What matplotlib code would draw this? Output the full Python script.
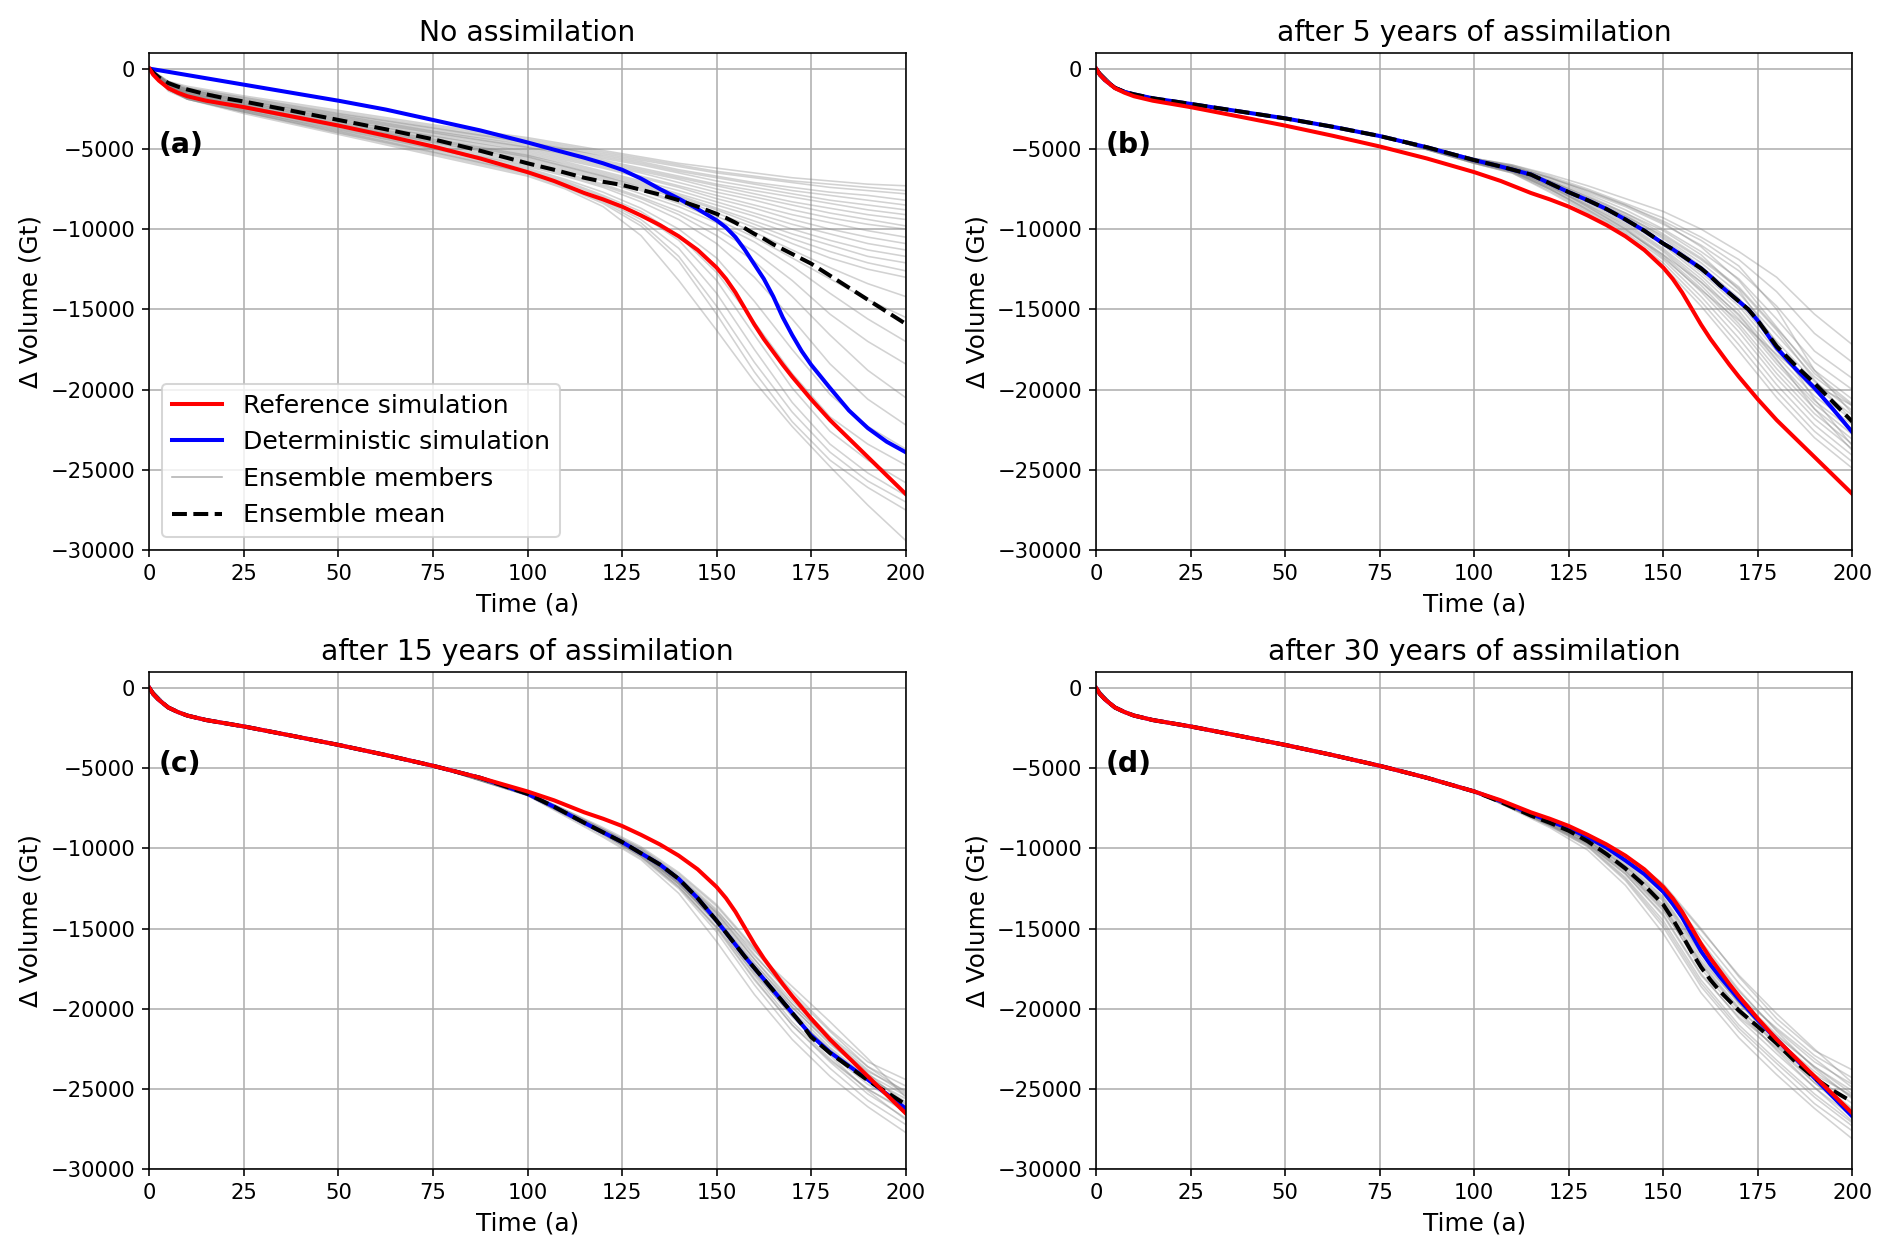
import numpy as np
import matplotlib
matplotlib.use("Agg")
import matplotlib.pyplot as plt
from matplotlib.lines import Line2D

# time grid of the main curves (years)
time = [0, 1, 2.5, 5, 7.5, 10, 15, 20, 25, 37.5, 50, 62.5, 75, 87.5, 100, 107, 115,
        120, 125, 130, 135, 140, 145, 150, 152.5, 155, 157.5, 160, 162.5, 165, 167.5,
        170, 172.5, 175, 180, 185, 190, 195, 200]

# volume change in 1000 Gt
reference = [0, -0.38, -0.75, -1.22, -1.5, -1.72, -2.0, -2.2, -2.4, -2.97, -3.55, -4.18,
             -4.85, -5.6, -6.45, -7.0, -7.75, -8.15, -8.6, -9.15, -9.75, -10.45, -11.3,
             -12.4, -13.1, -13.95, -14.95, -15.95, -16.85, -17.65, -18.45, -19.2, -19.9,
             -20.6, -21.9, -23.05, -24.2, -25.35, -26.5]

det_a = [0, -0.04, -0.1, -0.2, -0.3, -0.4, -0.6, -0.8, -1.0, -1.5, -2.0, -2.55, -3.2,
         -3.85, -4.6, -5.05, -5.55, -5.9, -6.3, -6.85, -7.5, -8.1, -8.75, -9.45, -9.9,
         -10.5, -11.3, -12.2, -13.1, -14.2, -15.5, -16.6, -17.6, -18.45, -19.9, -21.3,
         -22.4, -23.25, -23.9]
mean_a = [0, -0.25, -0.55, -0.9, -1.12, -1.3, -1.6, -1.85, -2.05, -2.62, -3.2, -3.78,
          -4.4, -5.12, -5.9, -6.3, -6.8, -7.05, -7.25, -7.55, -7.85, -8.2, -8.6, -9.05,
          -9.3, -9.6, -9.95, -10.3, -10.6, -10.95, -11.25, -11.55, -11.85, -12.15, -12.9,
          -13.65, -14.4, -15.15, -15.9]

det_b = [0, -0.38, -0.75, -1.2, -1.45, -1.6, -1.85, -2.02, -2.2, -2.65, -3.1, -3.62,
         -4.2, -4.9, -5.7, -6.1, -6.6, -7.15, -7.7, -8.2, -8.75, -9.4, -10.1, -10.9,
         -11.25, -11.65, -12.05, -12.45, -12.95, -13.5, -14.0, -14.5, -15.0, -15.7,
         -17.4, -18.7, -19.9, -21.25, -22.65]
mean_b = [0, -0.38, -0.75, -1.2, -1.45, -1.6, -1.85, -2.02, -2.2, -2.65, -3.1, -3.62,
          -4.2, -4.9, -5.7, -6.1, -6.6, -7.15, -7.7, -8.2, -8.75, -9.4, -10.1, -10.9,
          -11.25, -11.65, -12.05, -12.45, -12.95, -13.5, -14.0, -14.5, -15.0, -15.7,
          -17.3, -18.5, -19.6, -20.8, -22.0]

det_c = [0, -0.38, -0.75, -1.22, -1.5, -1.72, -2.0, -2.2, -2.4, -2.97, -3.55, -4.18,
         -4.85, -5.6, -6.6, -7.4, -8.4, -9.0, -9.6, -10.3, -11.0, -11.9, -13.1, -14.5,
         -15.25, -16.0, -16.75, -17.45, -18.15, -18.85, -19.55, -20.25, -20.95, -21.65,
         -22.7, -23.55, -24.4, -25.3, -26.2]
mean_c = [0, -0.38, -0.75, -1.22, -1.5, -1.72, -2.0, -2.2, -2.4, -2.97, -3.55, -4.18,
          -4.85, -5.6, -6.6, -7.4, -8.4, -9.0, -9.6, -10.3, -11.0, -11.9, -13.1, -14.5,
          -15.25, -16.0, -16.75, -17.45, -18.15, -18.85, -19.55, -20.25, -20.95, -21.75,
          -22.75, -23.6, -24.45, -25.2, -25.95]

det_d = [0, -0.38, -0.75, -1.22, -1.5, -1.72, -2.0, -2.2, -2.4, -2.97, -3.55, -4.18,
         -4.85, -5.6, -6.45, -7.05, -7.85, -8.3, -8.75, -9.3, -9.95, -10.75, -11.6,
         -12.7, -13.45, -14.3, -15.35, -16.4, -17.25, -18.0, -18.7, -19.4, -20.05,
         -20.7, -21.9, -23.1, -24.3, -25.5, -26.7]
mean_d = [0, -0.38, -0.75, -1.22, -1.5, -1.72, -2.0, -2.2, -2.4, -2.97, -3.55, -4.18,
          -4.85, -5.6, -6.45, -7.1, -7.95, -8.4, -8.9, -9.55, -10.35, -11.25, -12.3,
          -13.5, -14.4, -15.4, -16.45, -17.4, -18.2, -18.9, -19.5, -20.1, -20.6, -21.1,
          -22.15, -23.3, -24.3, -25.1, -25.8]

# ensemble members, time grid
time_members = [0, 5, 10, 25, 50, 75, 100, 110, 120, 130, 140, 150, 160, 170, 180, 190, 200]

members_a = [
    [0, -0.8, -1.1, -1.7, -2.6, -3.5, -4.3, -4.7, -5.1, -5.5, -5.9, -6.2, -6.5, -6.8, -7.0, -7.2, -7.3],
    [0, -0.8, -1.2, -1.8, -2.7, -3.6, -4.4, -4.8, -5.2, -5.6, -6.0, -6.4, -6.7, -7.0, -7.2, -7.4, -7.6],
    [0, -0.9, -1.2, -1.8, -2.8, -3.7, -4.5, -4.9, -5.3, -5.7, -6.1, -6.5, -6.8, -7.1, -7.4, -7.6, -7.8],
    [0, -0.9, -1.3, -1.9, -2.8, -3.7, -4.6, -5.0, -5.4, -5.8, -6.3, -6.7, -7.1, -7.4, -7.7, -7.9, -8.2],
    [0, -0.9, -1.3, -1.9, -2.9, -3.8, -4.6, -5.0, -5.5, -5.9, -6.4, -6.8, -7.2, -7.6, -7.9, -8.2, -8.5],
    [0, -0.9, -1.3, -2.0, -2.9, -3.9, -4.7, -5.1, -5.6, -6.0, -6.5, -7.0, -7.4, -7.8, -8.2, -8.5, -8.8],
    [0, -0.9, -1.3, -2.0, -3.0, -3.9, -4.8, -5.2, -5.7, -6.2, -6.7, -7.2, -7.6, -8.0, -8.4, -8.8, -9.1],
    [0, -1.0, -1.4, -2.0, -3.0, -4.0, -4.9, -5.3, -5.8, -6.3, -6.8, -7.3, -7.8, -8.3, -8.7, -9.1, -9.4],
    [0, -1.0, -1.4, -2.1, -3.1, -4.0, -4.9, -5.4, -5.9, -6.4, -6.9, -7.5, -8.0, -8.5, -9.0, -9.4, -9.8],
    [0, -1.0, -1.4, -2.1, -3.1, -4.1, -5.0, -5.5, -6.0, -6.5, -7.1, -7.7, -8.2, -8.8, -9.3, -9.7, -10.0],
    [0, -1.0, -1.4, -2.1, -3.2, -4.2, -5.1, -5.6, -6.1, -6.7, -7.3, -7.9, -8.5, -9.1, -9.6, -10.1, -10.5],
    [0, -1.0, -1.5, -2.2, -3.2, -4.2, -5.2, -5.7, -6.2, -6.8, -7.4, -8.1, -8.7, -9.4, -10.0, -10.5, -10.9],
    [0, -1.0, -1.5, -2.2, -3.3, -4.3, -5.3, -5.8, -6.4, -7.0, -7.6, -8.3, -9.0, -9.7, -10.3, -10.9, -11.3],
    [0, -1.1, -1.5, -2.2, -3.3, -4.4, -5.4, -5.9, -6.5, -7.1, -7.8, -8.5, -9.2, -10.0, -10.7, -11.3, -11.7],
    [0, -1.1, -1.5, -2.3, -3.4, -4.4, -5.4, -6.0, -6.6, -7.2, -7.9, -8.7, -9.5, -10.3, -11.0, -11.7, -12.1],
    [0, -1.1, -1.6, -2.3, -3.4, -4.5, -5.5, -6.1, -6.7, -7.3, -8.0, -8.8, -9.7, -10.6, -11.4, -12.1, -12.6],
    [0, -1.1, -1.6, -2.3, -3.5, -4.5, -5.5, -6.1, -6.7, -7.4, -8.1, -9.0, -9.9, -10.9, -11.8, -12.5, -13.0],
    [0, -1.1, -1.6, -2.4, -3.5, -4.6, -5.6, -6.2, -6.8, -7.5, -8.3, -9.2, -10.2, -11.3, -12.4, -13.4, -14.2],
    [0, -1.1, -1.6, -2.4, -3.5, -4.6, -5.7, -6.3, -6.9, -7.6, -8.4, -9.4, -10.5, -11.8, -13.1, -14.4, -15.5],
    [0, -1.2, -1.7, -2.4, -3.6, -4.7, -5.8, -6.4, -7.0, -7.8, -8.6, -9.6, -10.8, -12.3, -14.0, -15.6, -17.0],
    [0, -1.2, -1.7, -2.5, -3.6, -4.8, -5.9, -6.5, -7.2, -8.0, -8.9, -10.0, -11.4, -13.2, -15.3, -17.0, -18.4],
    [0, -1.2, -1.7, -2.5, -3.7, -4.9, -6.0, -6.6, -7.3, -8.1, -9.1, -10.4, -12.0, -14.2, -16.6, -18.8, -20.5],
    [0, -1.2, -1.7, -2.5, -3.7, -4.9, -6.1, -6.7, -7.4, -8.3, -9.4, -10.9, -13.0, -15.6, -18.4, -20.6, -22.2],
    [0, -1.2, -1.8, -2.6, -3.8, -5.0, -6.2, -6.9, -7.7, -8.7, -10.0, -11.8, -14.5, -17.5, -20.3, -22.3, -23.7],
    [0, -1.3, -1.8, -2.6, -3.8, -5.0, -6.3, -7.0, -7.9, -8.9, -10.4, -12.7, -15.8, -19.0, -21.7, -23.4, -24.7],
    [0, -1.3, -1.8, -2.6, -3.9, -5.1, -6.4, -7.1, -8.0, -9.1, -10.7, -13.2, -16.6, -19.9, -22.6, -24.4, -25.8],
    [0, -1.3, -1.9, -2.7, -3.9, -5.2, -6.5, -7.2, -8.2, -9.4, -11.2, -14.0, -17.5, -20.8, -23.4, -25.2, -26.6],
    [0, -1.3, -1.9, -2.7, -4.0, -5.2, -6.5, -7.3, -8.3, -9.6, -11.7, -14.8, -18.3, -21.4, -23.9, -25.7, -27.0],
    [0, -1.3, -1.9, -2.7, -4.0, -5.3, -6.6, -7.4, -8.4, -9.8, -12.0, -15.3, -18.9, -22.0, -24.4, -26.1, -27.5],
    [0, -1.4, -1.9, -2.8, -4.1, -5.4, -6.7, -7.5, -8.6, -10.4, -13.2, -16.3, -19.5, -22.3, -24.8, -27.2, -29.4],
]

# panels b-d: common start (t = 0..75) and member values from t = 100 on
start_b = [0, -1.15, -1.6, -2.2, -3.1, -4.2]
start_cd = [0, -1.22, -1.72, -2.4, -3.55, -4.85]

members_b = [
    [-5.6, -6.0, -6.6, -7.3, -8.1, -8.9, -10.0, -11.4, -13.0, -15.3, -17.2],
    [-5.6, -6.0, -6.7, -7.5, -8.4, -9.3, -10.5, -11.9, -13.9, -16.5, -18.3],
    [-5.65, -6.1, -6.8, -7.7, -8.6, -9.7, -11.0, -12.6, -14.8, -17.6, -19.3],
    [-5.65, -6.1, -6.9, -7.8, -8.8, -10.0, -11.4, -13.1, -15.6, -18.3, -20.0],
    [-5.7, -6.15, -7.0, -7.9, -9.0, -10.3, -11.8, -13.6, -16.2, -18.8, -20.6],
    [-5.7, -6.2, -7.0, -8.0, -9.1, -10.5, -12.1, -14.0, -16.6, -19.2, -21.0],
    [-5.7, -6.2, -7.1, -8.1, -9.2, -10.6, -12.3, -14.3, -17.0, -19.5, -21.3],
    [-5.75, -6.25, -7.1, -8.2, -9.3, -10.8, -12.5, -14.6, -17.3, -19.8, -21.6],
    [-5.75, -6.25, -7.2, -8.3, -9.4, -10.9, -12.7, -14.8, -17.6, -20.1, -21.9],
    [-5.75, -6.3, -7.2, -8.3, -9.5, -11.0, -12.9, -15.1, -17.9, -20.4, -22.2],
    [-5.8, -6.3, -7.3, -8.4, -9.6, -11.2, -13.1, -15.4, -18.2, -20.7, -22.5],
    [-5.8, -6.35, -7.3, -8.5, -9.7, -11.3, -13.3, -15.6, -18.4, -20.9, -22.8],
    [-5.8, -6.35, -7.4, -8.5, -9.8, -11.4, -13.5, -15.9, -18.7, -21.2, -23.1],
    [-5.85, -6.4, -7.4, -8.6, -9.9, -11.6, -13.7, -16.1, -19.0, -21.5, -23.4],
    [-5.85, -6.4, -7.5, -8.7, -10.0, -11.7, -13.9, -16.4, -19.3, -21.8, -23.7],
    [-5.9, -6.45, -7.5, -8.8, -10.2, -11.9, -14.2, -16.8, -19.7, -22.2, -24.1],
    [-5.9, -6.5, -7.6, -8.9, -10.3, -12.1, -14.5, -17.2, -20.1, -22.6, -24.5],
    [-5.9, -6.5, -7.7, -9.0, -10.5, -12.3, -14.8, -17.6, -20.5, -23.0, -24.9],
    [-5.65, -6.1, -6.8, -7.6, -8.5, -9.5, -10.7, -12.3, -15.0, -18.8, -21.5],
    [-5.7, -6.2, -7.0, -8.0, -9.0, -10.1, -11.6, -13.8, -17.1, -20.6, -23.5],
    [-5.8, -6.3, -7.3, -8.6, -10.0, -11.8, -13.8, -15.7, -17.8, -19.7, -21.0],
    [-5.6, -6.05, -6.8, -7.6, -8.5, -9.6, -11.1, -13.2, -16.1, -19.0, -20.9],
    [-5.75, -6.2, -7.1, -8.1, -9.2, -10.4, -11.9, -13.7, -16.3, -19.4, -21.9],
    [-5.85, -6.4, -7.5, -8.8, -10.1, -11.6, -13.3, -15.3, -18.1, -21.2, -23.8],
]

members_c = [
    [-6.5, -7.6, -8.7, -9.9, -11.5, -13.5, -16.2, -18.9, -21.3, -23.3, -24.4],
    [-6.5, -7.6, -8.8, -10.0, -11.7, -13.8, -16.6, -19.3, -21.7, -23.6, -24.8],
    [-6.55, -7.7, -8.8, -10.1, -11.8, -14.0, -16.9, -19.7, -22.0, -23.9, -25.1],
    [-6.55, -7.7, -8.9, -10.2, -11.9, -14.2, -17.1, -19.9, -22.2, -24.1, -25.4],
    [-6.6, -7.75, -8.9, -10.2, -12.0, -14.3, -17.3, -20.1, -22.4, -24.3, -25.6],
    [-6.6, -7.8, -9.0, -10.3, -12.1, -14.5, -17.5, -20.3, -22.6, -24.5, -25.9],
    [-6.6, -7.8, -9.0, -10.3, -12.1, -14.6, -17.7, -20.5, -22.8, -24.7, -26.1],
    [-6.65, -7.85, -9.1, -10.4, -12.2, -14.7, -17.9, -20.8, -23.1, -25.0, -26.4],
    [-6.65, -7.9, -9.1, -10.5, -12.3, -14.9, -18.1, -21.0, -23.3, -25.3, -26.8],
    [-6.7, -7.9, -9.2, -10.6, -12.5, -15.2, -18.5, -21.4, -23.7, -25.7, -27.2],
    [-6.7, -8.0, -9.3, -10.7, -12.8, -15.8, -19.1, -21.9, -24.2, -26.1, -27.7],
    [-6.55, -7.7, -8.9, -10.1, -11.8, -13.9, -16.4, -18.6, -20.8, -23.1, -25.5],
    [-6.6, -7.8, -8.9, -10.2, -11.9, -14.0, -16.7, -19.1, -21.4, -23.6, -25.2],
    [-6.6, -7.75, -8.95, -10.3, -12.1, -14.4, -17.2, -19.7, -21.9, -24.0, -26.0],
    [-6.65, -7.85, -9.05, -10.4, -12.2, -14.6, -17.6, -20.4, -22.9, -25.1, -26.9],
    [-6.6, -7.8, -9.0, -10.3, -12.0, -14.1, -16.9, -19.5, -21.8, -23.8, -25.3],
    [-6.7, -7.9, -9.1, -10.5, -12.4, -15.0, -18.2, -21.0, -23.2, -25.0, -26.3],
    [-6.5, -7.65, -8.8, -10.0, -11.6, -13.6, -16.3, -19.2, -22.0, -24.2, -25.8],
    [-6.6, -7.8, -9.0, -10.35, -12.2, -14.6, -17.4, -19.9, -22.1, -24.2, -26.5],
    [-6.65, -7.85, -9.1, -10.5, -12.4, -14.9, -17.8, -20.4, -22.5, -24.5, -26.2],
]

members_d = [
    [-6.45, -7.3, -8.2, -9.1, -10.4, -12.2, -15.0, -18.0, -20.6, -22.6, -23.8],
    [-6.45, -7.3, -8.25, -9.2, -10.6, -12.5, -15.5, -18.4, -20.9, -22.9, -24.3],
    [-6.45, -7.35, -8.3, -9.3, -10.8, -12.8, -16.0, -18.9, -21.3, -23.3, -24.7],
    [-6.45, -7.35, -8.3, -9.4, -10.9, -13.0, -16.4, -19.3, -21.6, -23.6, -25.1],
    [-6.45, -7.4, -8.35, -9.5, -11.1, -13.3, -16.8, -19.7, -21.9, -23.9, -25.5],
    [-6.45, -7.4, -8.4, -9.55, -11.3, -13.6, -17.2, -20.0, -22.2, -24.2, -25.9],
    [-6.45, -7.45, -8.45, -9.6, -11.4, -13.8, -17.5, -20.3, -22.5, -24.6, -26.3],
    [-6.45, -7.45, -8.5, -9.7, -11.6, -14.1, -17.8, -20.6, -22.8, -24.9, -26.7],
    [-6.45, -7.5, -8.55, -9.8, -11.8, -14.5, -18.2, -21.0, -23.2, -25.3, -27.1],
    [-6.45, -7.5, -8.6, -9.9, -12.0, -14.9, -18.6, -21.4, -23.7, -25.9, -27.6],
    [-6.45, -7.55, -8.7, -10.1, -12.3, -15.3, -19.0, -21.8, -24.1, -26.2, -28.1],
    [-6.45, -7.3, -8.2, -9.15, -10.5, -12.3, -15.1, -17.9, -20.3, -22.5, -24.6],
    [-6.45, -7.35, -8.3, -9.3, -10.7, -12.6, -15.8, -18.8, -21.4, -23.7, -25.6],
    [-6.45, -7.4, -8.4, -9.5, -11.2, -13.5, -17.0, -19.6, -21.7, -23.6, -25.3],
    [-6.45, -7.45, -8.5, -9.7, -11.5, -13.9, -17.3, -20.1, -22.6, -24.9, -27.0],
    [-6.45, -7.35, -8.3, -9.4, -11.0, -13.1, -16.5, -19.6, -22.2, -24.4, -26.2],
    [-6.45, -7.5, -8.55, -9.75, -11.6, -14.2, -17.9, -20.5, -22.4, -24.1, -25.4],
    [-6.45, -7.4, -8.4, -9.5, -11.1, -13.2, -16.6, -19.2, -21.2, -23.1, -24.9],
    [-6.45, -7.45, -8.5, -9.65, -11.4, -13.7, -17.1, -19.9, -22.3, -24.6, -26.6],
    [-6.45, -7.5, -8.6, -9.85, -11.9, -14.7, -18.4, -21.2, -23.4, -25.5, -27.3],
]

titles = ["No assimilation", "after 5 years of assimilation",
          "after 15 years of assimilation", "after 30 years of assimilation"]
labels = ["(a)", "(b)", "(c)", "(d)"]
legend_labels = ["Reference simulation", "Deterministic simulation",
                 "Ensemble members", "Ensemble mean"]

panels = [
    (members_a, det_a, mean_a),
    ([start_b + m for m in members_b], det_b, mean_b),
    ([start_cd + m for m in members_c], det_c, mean_c),
    ([start_cd + m for m in members_d], det_d, mean_d),
]

fig, axes = plt.subplots(2, 2, figsize=(1892 / 145, 1252 / 145), dpi=145)
fig.subplots_adjust(left=0.079, right=0.979, bottom=0.066, top=0.958,
                    wspace=0.252, hspace=0.245)

t = np.array(time)
tm = np.array(time_members)
for ax, (members, det, mean), title, lab in zip(axes.flat, panels, titles, labels):
    for m in members:
        ax.plot(tm, np.array(m) * 1000, color="grey", lw=0.8, alpha=0.35)
    ax.plot(t, np.array(det) * 1000, color="blue", lw=2)
    ax.plot(t, np.array(mean) * 1000, color="black", lw=2, ls="--")
    ax.plot(t, np.array(reference) * 1000, color="red", lw=2)
    ax.set_xlim(0, 200)
    ax.set_ylim(-30000, 1000)
    ax.set_xticks(np.arange(0, 201, 25))
    ax.set_yticks(np.arange(-30000, 1, 5000))
    ax.grid(True)
    ax.tick_params(labelsize=10.5)
    ax.set_title(title, fontsize=14)
    ax.set_xlabel("Time (a)", fontsize=12.3)
    ax.set_ylabel("Δ Volume (Gt)", fontsize=12.3)
    ax.text(0.012, 0.815, lab, transform=ax.transAxes, fontsize=14,
            fontweight="bold", va="center")

handles = [Line2D([], [], color="red", lw=2),
           Line2D([], [], color="blue", lw=2),
           Line2D([], [], color="grey", lw=0.8, alpha=0.6),
           Line2D([], [], color="black", lw=2, ls="--")]
axes[0, 0].legend(handles, legend_labels, loc="lower left", fontsize=12.5)

fig.savefig("out.png", dpi=145)
